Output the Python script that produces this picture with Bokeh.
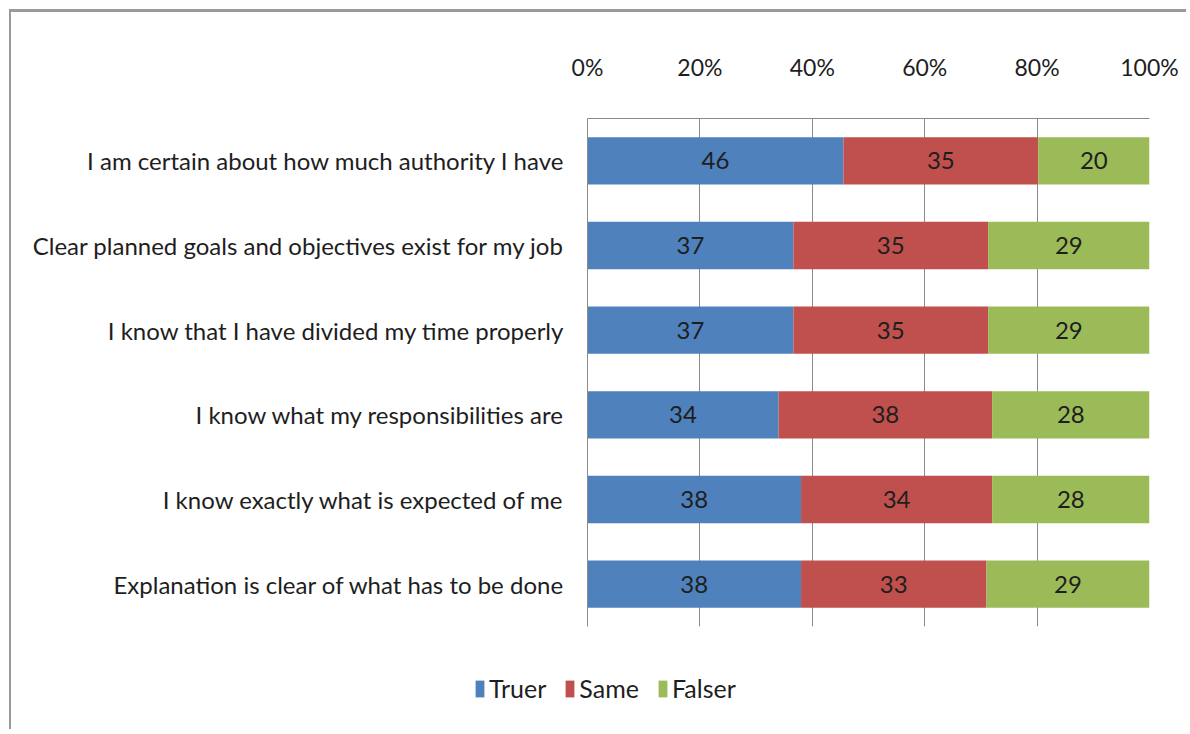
from bokeh.plotting import figure
from bokeh.models import ColumnDataSource, FactorRange, Range1d, Legend, LegendItem, FixedTicker
from bokeh.embed import file_html
from bokeh.resources import INLINE
from bokeh.core.properties import value

# ---- data ----
categories = [
    "I am certain about how much authority I have",
    "Clear planned goals and objectives exist for my job",
    "I know that I have divided my time properly",
    "I know what my responsibilities are",
    "I know exactly what is expected of me",
    "Explanation is clear of what has to be done",
]
truer = [46, 37, 37, 34, 38, 38]
same = [35, 35, 35, 38, 34, 33]
falser = [20, 29, 29, 28, 28, 29]
series_names = ["Truer", "Same", "Falser"]
series_colors = ["#4F81BD", "#C0504D", "#9BBB59"]
x_ticks = [0, 20, 40, 60, 80, 100]
x_tick_labels = ["0%", "20%", "40%", "60%", "80%", "100%"]

FONT = "Lato"
TEXT_COLOR = "#1e1e1e"
GRID_COLOR = "#8a8a8a"
W = 1177

series = [truer, same, falser]
totals = [sum(v) for v in zip(*series)]

p = figure(
    y_range=FactorRange(*reversed(categories)),
    x_range=Range1d(0, 100),
    width=W, height=630,
    output_backend="svg", toolbar_location=None,
    x_axis_location="above",
    min_border_left=576, min_border_right=39,
    min_border_top=106, min_border_bottom=16,
)
p.styles = {"border-left": "2px solid #9a9a9a", "border-top": "3px solid #9a9a9a",
            "margin-left": "9px", "margin-top": "9px"}
p.outline_line_color = None
p.background_fill_color = "white"
p.border_fill_color = "white"

series_data = []
left = [0.0] * len(categories)
for name, vals, col in zip(series_names, series, series_colors):
    pct = [v / t * 100 for v, t in zip(vals, totals)]
    right = [l + q for l, q in zip(left, pct)]
    data = dict(
        cat=categories, left=left, right=right,
        mid=[(l + r) / 2 for l, r in zip(left, right)],
        lab=[str(v) for v in vals],
    )
    series_data.append(data)
    src = ColumnDataSource(data)
    p.hbar(y="cat", left="left", right="right", height=0.56, source=src,
           fill_color=col, line_color=None)
    p.text(x="mid", y="cat", text="lab", source=src, text_align="center",
           text_baseline="middle", text_font=value(FONT), text_font_size="24px",
           text_color=TEXT_COLOR)
    left = right

# axes
xa = p.xaxis[0]
xa.ticker = FixedTicker(ticks=x_ticks)
xa.major_label_overrides = {t: l for t, l in zip(x_ticks, x_tick_labels)}
xa.axis_line_color = GRID_COLOR
xa.major_tick_line_color = None
xa.minor_tick_line_color = None
xa.major_label_standoff = 32
xa.major_label_text_font = FONT
xa.major_label_text_font_size = "23px"
xa.major_label_text_color = TEXT_COLOR

ya = p.yaxis[0]
ya.axis_line_color = GRID_COLOR
ya.major_tick_line_color = None
ya.minor_tick_line_color = None
ya.major_label_standoff = 17
ya.major_label_text_font = FONT
ya.major_label_text_font_size = "24px"
ya.major_label_text_color = TEXT_COLOR

p.ygrid.grid_line_color = None
p.xgrid.ticker = FixedTicker(ticks=x_ticks)
p.xgrid.grid_line_color = GRID_COLOR
p.xgrid.grid_line_width = 1

# ---- legend strip below the chart (separate root so it is not frame-aligned) ----
lp = figure(width=W, height=90, output_backend="svg", toolbar_location=None,
            x_axis_location=None, y_axis_location=None,
            x_range=Range1d(0, 100), y_range=FactorRange(*reversed(categories)),
            min_border_left=0, min_border_right=0, min_border_top=0, min_border_bottom=0)
lp.styles = {"border-left": "2px solid #9a9a9a", "margin-left": "9px"}
lp.outline_line_color = None
lp.grid.visible = False
legend_items = []
for name, col, data in zip(series_names, series_colors, series_data):
    r = lp.hbar(y="cat", left="left", right="right", height=0.56,
                source=ColumnDataSource(dict(data)),
                fill_color=col, line_color=None, visible=False)
    legend_items.append(LegendItem(label=name, renderers=[r]))
legend = Legend(items=legend_items, location=(463, 26), orientation="horizontal",
                glyph_width=11, glyph_height=21, label_standoff=4, spacing=18,
                padding=0, margin=0, border_line_color=None, background_fill_alpha=0,
                inactive_fill_alpha=0,
                label_text_font=FONT, label_text_font_size="25px",
                label_text_color=TEXT_COLOR, label_text_baseline="middle")
lp.add_layout(legend, "center")

open("out.html", "w").write(file_html([p, lp], INLINE))
